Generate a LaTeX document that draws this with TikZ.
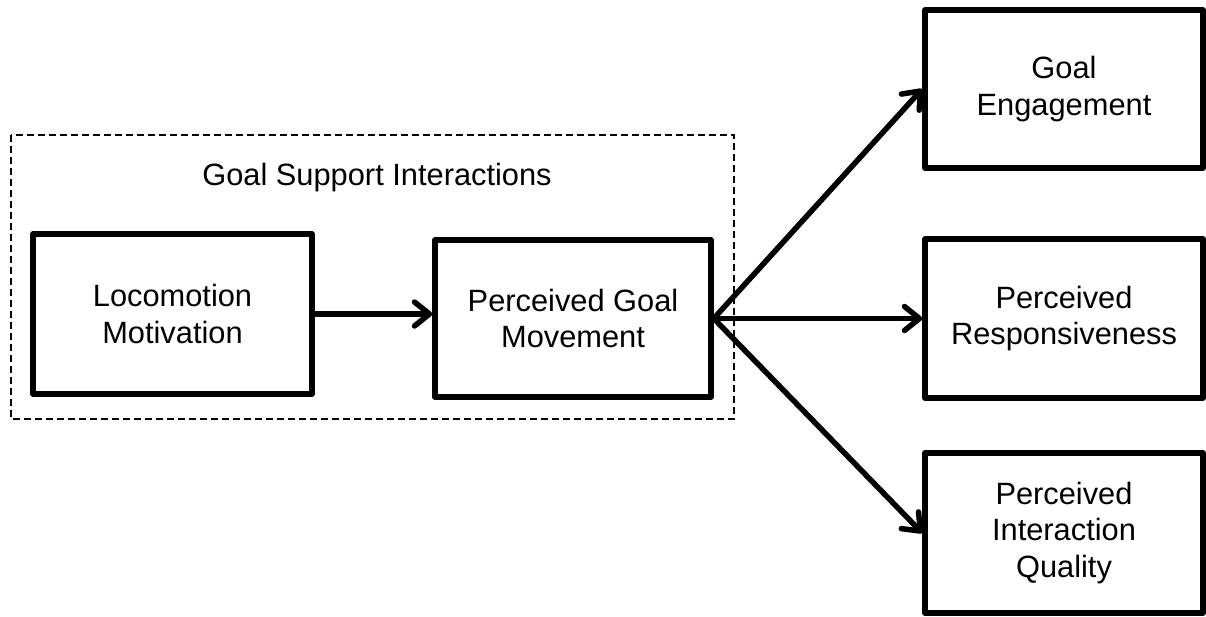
\documentclass[tikz,border=0pt]{standalone}
\usepackage{fontspec}
\setmainfont{Liberation Sans}
\usetikzlibrary{arrows.meta}
\tikzset{
  box/.style={draw=black, line width=5.5pt, line join=round, fill=white, align=center,
    font=\fontsize{30.8}{36.5}\selectfont, inner sep=0pt},
  link/.style={draw=black, line width=5.5pt, -{Straight Barb[length=15pt,width=24pt,round]}},
  group/.style={draw=black, line width=2.2pt, dash pattern=on 7pt off 4pt},
  title/.style={font=\fontsize{30.8}{36.5}\selectfont, inner sep=0pt}
}
\begin{document}
\begin{tikzpicture}[x=1pt,y=-1pt]
\useasboundingbox (0,0) rectangle (1206,616);
\draw[group] (11,135) rectangle (734,419);
\node[title, anchor=base] (gsi) at (377,185) {Goal Support Interactions};
\node[box, minimum width=279pt, minimum height=160pt] (loc) at (172.5,314) {Locomotion\\Motivation};
\node[box, minimum width=276pt, minimum height=157pt] (pgm) at (573,318.5) {Perceived Goal\\Movement};
\node[box, minimum width=278pt, minimum height=158pt] (ge) at (1064,89) {Goal\\Engagement};
\node[box, minimum width=278pt, minimum height=159pt] (pr) at (1064,318.5) {Perceived\\Responsiveness};
\node[box, minimum width=278pt, minimum height=160pt] (piq) at (1064,533) {Perceived\\Interaction\\Quality};
\draw[link] (loc.east) -- (loc.east -| pgm.west);
\draw[link] (pgm.east) -- (ge.west);
\draw[link] (pgm.east) -- (pr.west);
\draw[link] (pgm.east) -- (piq.west);
\end{tikzpicture}
\end{document}
